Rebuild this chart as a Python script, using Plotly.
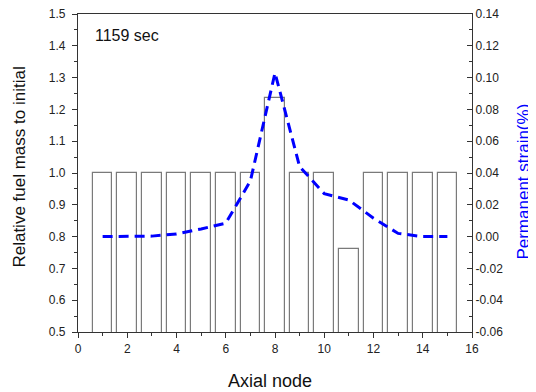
import plotly.graph_objects as go

nodes = list(range(1, 16))
fuel_mass = [1.0, 1.0, 1.0, 1.0, 1.0, 1.0, 1.0, 1.236, 1.0, 1.0, 0.762, 1.0, 1.0, 1.0, 1.0]
strain = [0.0, 0.0, 0.0003, 0.0017, 0.0048, 0.0084, 0.035, 0.103, 0.044, 0.027, 0.023, 0.0116, 0.002, 0.0, 0.0]

x_ticks = [0, 2, 4, 6, 8, 10, 12, 14, 16]
y_ticks = [0.5, 0.6, 0.7, 0.8, 0.9, 1.0, 1.1, 1.2, 1.3, 1.4, 1.5]
y2_ticks = [-0.06, -0.04, -0.02, 0.0, 0.02, 0.04, 0.06, 0.08, 0.10, 0.12, 0.14]
y2_labels = ["-0.06", "-0.04", "-0.02", "0.00", "0.02", "0.04", "0.06", "0.08", "0.10", "0.12", "0.14"]
time_label = "1159 sec"
x_title = "Axial node"
y_title = "Relative fuel mass to initial"
y2_title = "Permanent strain(%)"

FONT = "Liberation Sans, Arial, sans-serif"

fig = go.Figure()
fig.add_trace(go.Bar(
    x=nodes, y=fuel_mass, width=0.8,
    marker=dict(color="white", line=dict(color="#7a7a7a", width=1.2)),
    showlegend=False,
))
fig.add_trace(go.Scatter(
    x=nodes, y=strain, yaxis="y2", mode="lines",
    line=dict(color="#0000ff", width=3, dash="10px,6px"),
    showlegend=False,
))

axis_common = dict(
    showline=True, linecolor="#333333", linewidth=1.2,
    showgrid=False, zeroline=False, automargin=False,
    ticklabeloverflow="allow",
    tickcolor="#333333", ticklen=5, tickwidth=1,
    tickfont=dict(family=FONT, size=12, color="#222222"),
)

fig.update_layout(
    width=528, height=384,
    margin=dict(l=70, r=64, t=6, b=60),
    plot_bgcolor="white", paper_bgcolor="white",
    font=dict(family=FONT, color="#222222"),
    bargap=0,
    xaxis=dict(
        range=[0, 16], tickvals=x_ticks, ticks="outside", mirror=True,
        minor=dict(dtick=1, ticklen=3, ticks="outside", tickcolor="#333333"),
        **axis_common,
    ),
    yaxis=dict(
        range=[0.5, 1.5], tickvals=y_ticks, tickformat=".1f", ticks="outside",
        ticklabelstandoff=4,
        minor=dict(dtick=0.05, ticklen=3, ticks="outside", tickcolor="#333333"),
        **axis_common,
    ),
    yaxis2=dict(
        range=[-0.06, 0.14], overlaying="y", side="right",
        tickvals=y2_ticks, ticktext=y2_labels, ticks="inside",
        minor=dict(dtick=0.01, ticklen=3, ticks="inside", tickcolor="#333333"),
        **axis_common,
    ),
    annotations=[
        dict(text=time_label, xref="x", yref="y", x=0.62, y=1.432,
             xanchor="left", yanchor="middle", showarrow=False,
             font=dict(family=FONT, size=16, color="#111111")),
        dict(text=x_title, xref="paper", yref="paper", x=0.488, y=-0.155,
             xanchor="center", yanchor="middle", showarrow=False,
             font=dict(family=FONT, size=18, color="#111111")),
        dict(text=y_title, xref="paper", yref="paper", x=-0.149, y=0.518,
             xanchor="center", yanchor="middle", showarrow=False, textangle=-90,
             font=dict(family=FONT, size=17, color="#111111")),
        dict(text=y2_title, xref="paper", yref="paper", x=1.132, y=0.473,
             xanchor="center", yanchor="middle", showarrow=False, textangle=-90,
             font=dict(family=FONT, size=17, color="#0000ff")),
    ],
)

fig.write_html("out.html")
